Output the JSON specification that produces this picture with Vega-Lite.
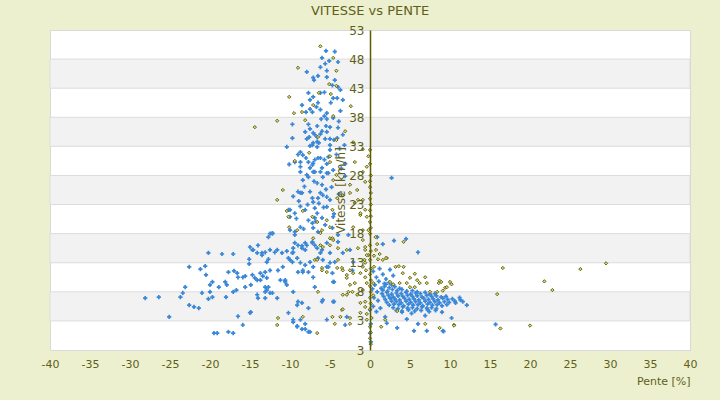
{
  "$schema": "https://vega.github.io/schema/vega-lite/v6.json",
  "width": 640,
  "height": 320,
  "autosize": {"type": "none"},
  "padding": {"left": 50, "top": 30, "right": 30, "bottom": 50},
  "background": "#ecf0ce",
  "title": {"text": "VITESSE vs PENTE", "fontSize": 13, "fontWeight": "normal", "color": "#5f5f1a", "font": "DejaVu Sans", "offset": 6},
  "config": {
    "view": {"stroke": "#d9d9d9", "fill": "white"},
    "axis": {"labelFont": "DejaVu Sans", "titleFont": "DejaVu Sans", "labelColor": "#5f5f1a", "titleColor": "#5f5f1a", "titleFontWeight": "normal", "labelOverlap": false}
  },
  "datasets": {
    "bandes": [
      {"bas": 43, "haut": 48}, {"bas": 33, "haut": 38}, {"bas": 23, "haut": 28}, {"bas": 13, "haut": 18}, {"bas": 3, "haut": 8}
    ],
    "bleu": [
      {"pente": -5.5, "vitesse": 49.4}, {"pente": -4.4, "vitesse": 49.3}, {"pente": -6, "vitesse": 48.2}, {"pente": -5.1, "vitesse": 47.7},
      {"pente": -4, "vitesse": 47.5}, {"pente": -5.6, "vitesse": 47.2}, {"pente": -6.2, "vitesse": 46.6}, {"pente": -5.4, "vitesse": 46},
      {"pente": -7.9, "vitesse": 45.8}, {"pente": -6.5, "vitesse": 45.1}, {"pente": -7.1, "vitesse": 44.8}, {"pente": -7, "vitesse": 44.4},
      {"pente": -5.4, "vitesse": 44.9}, {"pente": -4.4, "vitesse": 44.4}, {"pente": -4.7, "vitesse": 43.5}, {"pente": -4, "vitesse": 43.2},
      {"pente": -3.7, "vitesse": 42.7}, {"pente": -5.7, "vitesse": 42.3}, {"pente": -6.2, "vitesse": 42.2}, {"pente": -7.7, "vitesse": 42.2},
      {"pente": -7.1, "vitesse": 41.5}, {"pente": -4.6, "vitesse": 41.3}, {"pente": -4.1, "vitesse": 41.3}, {"pente": -7.5, "vitesse": 41},
      {"pente": -3.4, "vitesse": 41}, {"pente": -6.5, "vitesse": 40.5}, {"pente": -8.5, "vitesse": 40.1}, {"pente": -4.9, "vitesse": 40.5},
      {"pente": -6.7, "vitesse": 39.8}, {"pente": -7.5, "vitesse": 39.4}, {"pente": -8, "vitesse": 38.9}, {"pente": -7.2, "vitesse": 38.9},
      {"pente": -6.2, "vitesse": 39.3}, {"pente": -3.7, "vitesse": 39.1}, {"pente": -5.4, "vitesse": 38.7}, {"pente": -5.7, "vitesse": 38.2},
      {"pente": -6.1, "vitesse": 37.7}, {"pente": -5.4, "vitesse": 37.7}, {"pente": -4.6, "vitesse": 37.9}, {"pente": -9.7, "vitesse": 36.8},
      {"pente": -7.7, "vitesse": 36.8}, {"pente": -6.6, "vitesse": 36.5}, {"pente": -5.5, "vitesse": 36.5}, {"pente": -5, "vitesse": 36.3},
      {"pente": -4, "vitesse": 36.2}, {"pente": -7.5, "vitesse": 36}, {"pente": -6, "vitesse": 35.6}, {"pente": -5.4, "vitesse": 35.5},
      {"pente": -7.1, "vitesse": 35.3}, {"pente": -6.6, "vitesse": 34.6}, {"pente": -9.7, "vitesse": 34.4}, {"pente": -7.9, "vitesse": 34.3},
      {"pente": -5.6, "vitesse": 34.3}, {"pente": -5, "vitesse": 34.3}, {"pente": -4.1, "vitesse": 34.4}, {"pente": -7.1, "vitesse": 33.6},
      {"pente": -6.4, "vitesse": 33.6}, {"pente": -10.4, "vitesse": 32.9}, {"pente": -8.7, "vitesse": 32}, {"pente": -7.5, "vitesse": 33.1},
      {"pente": -6.6, "vitesse": 32.9}, {"pente": -5, "vitesse": 32.4}, {"pente": -3.2, "vitesse": 33.2}, {"pente": -8, "vitesse": 31},
      {"pente": -6.2, "vitesse": 31}, {"pente": -7.1, "vitesse": 30.1}, {"pente": -5.4, "vitesse": 30}, {"pente": -3.1, "vitesse": 30},
      {"pente": -8.7, "vitesse": 29.5}, {"pente": -6, "vitesse": 29.3}, {"pente": -6.9, "vitesse": 28.6}, {"pente": -5.2, "vitesse": 28.4},
      {"pente": -7.7, "vitesse": 27.7}, {"pente": -3.1, "vitesse": 27.9},
      {"pente": -7.6, "vitesse": 34.6}, {"pente": -6.9, "vitesse": 35}, {"pente": -6.2, "vitesse": 35.1}, {"pente": -6.6, "vitesse": 33.8},
      {"pente": -7.2, "vitesse": 33.2}, {"pente": -5, "vitesse": 33.2}, {"pente": -4.5, "vitesse": 34.1}, {"pente": -8.4, "vitesse": 31.5},
      {"pente": -9.4, "vitesse": 30.3}, {"pente": -8.7, "vitesse": 30.3}, {"pente": -7.7, "vitesse": 30.3}, {"pente": -7.2, "vitesse": 29.8},
      {"pente": -6.9, "vitesse": 30.7}, {"pente": -6.5, "vitesse": 31}, {"pente": -5.7, "vitesse": 30.7}, {"pente": -5.2, "vitesse": 31.2},
      {"pente": -7.5, "vitesse": 29.3}, {"pente": -7.1, "vitesse": 28.6}, {"pente": -7.9, "vitesse": 28.1}, {"pente": -6.2, "vitesse": 28.6},
      {"pente": -5.9, "vitesse": 27.7}, {"pente": -5.4, "vitesse": 28.4}, {"pente": -4.6, "vitesse": 28.9}, {"pente": -8.7, "vitesse": 28.6},
      {"pente": -8.4, "vitesse": 27.2}, {"pente": -6.6, "vitesse": 26.7}, {"pente": -6, "vitesse": 26.4}, {"pente": -9, "vitesse": 25.2},
      {"pente": -8.5, "vitesse": 25}, {"pente": -7.2, "vitesse": 24.1}, {"pente": -6.2, "vitesse": 25}, {"pente": -7.5, "vitesse": 25.2},
      {"pente": -5.4, "vitesse": 24.3}, {"pente": -5, "vitesse": 23.8}, {"pente": -10, "vitesse": 22.1}, {"pente": -8.1, "vitesse": 22.1},
      {"pente": -6.9, "vitesse": 22.4}, {"pente": -6.6, "vitesse": 21.5}, {"pente": -7.7, "vitesse": 20.3}, {"pente": -7.2, "vitesse": 19.8},
      {"pente": -8.7, "vitesse": 19.1}, {"pente": -10, "vitesse": 18.6}, {"pente": -9.4, "vitesse": 17.8}, {"pente": -12.2, "vitesse": 18},
      {"pente": -6, "vitesse": 20.7}, {"pente": -5.6, "vitesse": 19.5}, {"pente": -6.5, "vitesse": 18.3}, {"pente": -4, "vitesse": 17.8},
      {"pente": -5.4, "vitesse": 16.4}, {"pente": -7.9, "vitesse": 16}, {"pente": -9.4, "vitesse": 16.4},
      {"pente": -8.2, "vitesse": 26.1}, {"pente": -7, "vitesse": 27}, {"pente": -6.4, "vitesse": 23.2}, {"pente": -5.8, "vitesse": 22.5},
      {"pente": -8.9, "vitesse": 23.6}, {"pente": -9.6, "vitesse": 24.4}, {"pente": -4.8, "vitesse": 26}, {"pente": -5.5, "vitesse": 25.6},
      {"pente": -7.8, "vitesse": 23}, {"pente": -6.8, "vitesse": 20.1}, {"pente": -9.2, "vitesse": 20.6}, {"pente": -8.3, "vitesse": 18.8},
      {"pente": -4.5, "vitesse": 21.4}, {"pente": -3.9, "vitesse": 24.8}, {"pente": -3.6, "vitesse": 29.2}, {"pente": -4.2, "vitesse": 31.6},
      {"pente": -3.8, "vitesse": 32.6}, {"pente": -8.1, "vitesse": 35.5}, {"pente": -9, "vitesse": 31.6}, {"pente": -10.1, "vitesse": 29.9},
      {"pente": -3.4, "vitesse": 35}, {"pente": -3.9, "vitesse": 37.3},
      {"pente": -14, "vitesse": 16}, {"pente": -12.5, "vitesse": 18}, {"pente": -13.1, "vitesse": 14.8}, {"pente": -14.1, "vitesse": 14.7},
      {"pente": -14.7, "vitesse": 15.2}, {"pente": -13.5, "vitesse": 14.3}, {"pente": -12.9, "vitesse": 13.1}, {"pente": -11.6, "vitesse": 15.2},
      {"pente": -11, "vitesse": 14.7}, {"pente": -10.4, "vitesse": 15}, {"pente": -9.7, "vitesse": 14.7}, {"pente": -9.6, "vitesse": 15.5},
      {"pente": -9, "vitesse": 16}, {"pente": -8.5, "vitesse": 15.9}, {"pente": -8.1, "vitesse": 15.2}, {"pente": -7.2, "vitesse": 16.4},
      {"pente": -6.9, "vitesse": 16}, {"pente": -6.6, "vitesse": 15.5}, {"pente": -6.2, "vitesse": 14.7}, {"pente": -6, "vitesse": 15.2},
      {"pente": -10, "vitesse": 13.5}, {"pente": -9.1, "vitesse": 13.8}, {"pente": -8.7, "vitesse": 13}, {"pente": -8.1, "vitesse": 12.6},
      {"pente": -7.5, "vitesse": 13.1}, {"pente": -9, "vitesse": 11.4}, {"pente": -8.4, "vitesse": 11.4}, {"pente": -7.7, "vitesse": 11.4},
      {"pente": -7.1, "vitesse": 12.3}, {"pente": -5.4, "vitesse": 12.3}, {"pente": -5, "vitesse": 13}, {"pente": -4.4, "vitesse": 13.1},
      {"pente": -4.7, "vitesse": 11.2}, {"pente": -5.9, "vitesse": 13.5}, {"pente": -14.7, "vitesse": 10.9}, {"pente": -14.4, "vitesse": 10.4},
      {"pente": -13.7, "vitesse": 11.2}, {"pente": -13.1, "vitesse": 11.4}, {"pente": -12.5, "vitesse": 11.7}, {"pente": -14.1, "vitesse": 10},
      {"pente": -12.7, "vitesse": 8.8}, {"pente": -12.9, "vitesse": 8.3}, {"pente": -12.2, "vitesse": 7.8}, {"pente": -14.1, "vitesse": 7.5},
      {"pente": -13.1, "vitesse": 6.9}, {"pente": -11.5, "vitesse": 11.7}, {"pente": -11.2, "vitesse": 10}, {"pente": -10.6, "vitesse": 9.7},
      {"pente": -10.4, "vitesse": 9.2}, {"pente": -11.6, "vitesse": 6.9}, {"pente": -9.6, "vitesse": 8}, {"pente": -9, "vitesse": 6.3},
      {"pente": -8.5, "vitesse": 6.1}, {"pente": -7.7, "vitesse": 5.2}, {"pente": -6, "vitesse": 6.3}, {"pente": -4.6, "vitesse": 6.3},
      {"pente": -10.2, "vitesse": 4.4}, {"pente": -9.6, "vitesse": 2.8}, {"pente": -9.1, "vitesse": 2}, {"pente": -8.5, "vitesse": 1.6},
      {"pente": -8.1, "vitesse": 1.6}, {"pente": -7.7, "vitesse": 1.1}, {"pente": -5.4, "vitesse": 3.2}, {"pente": -4.6, "vitesse": 9.7},
      {"pente": -14.9, "vitesse": 4.5}, {"pente": -3.1, "vitesse": 2.3},
      {"pente": -28.1, "vitesse": 6.9}, {"pente": -26.4, "vitesse": 7.1}, {"pente": -25.1, "vitesse": 3.7}, {"pente": -23.7, "vitesse": 7.1},
      {"pente": -23.4, "vitesse": 7.8}, {"pente": -23.1, "vitesse": 8.8}, {"pente": -22.6, "vitesse": 12.3}, {"pente": -22.6, "vitesse": 5.7},
      {"pente": -22, "vitesse": 5.4}, {"pente": -21.4, "vitesse": 5.2}, {"pente": -21, "vitesse": 7.8}, {"pente": -21.2, "vitesse": 11.9},
      {"pente": -20.6, "vitesse": 12.4}, {"pente": -20.5, "vitesse": 10.9}, {"pente": -20.2, "vitesse": 14.7}, {"pente": -20, "vitesse": 8},
      {"pente": -20.2, "vitesse": 6.8}, {"pente": -19.7, "vitesse": 7.1}, {"pente": -19.7, "vitesse": 9.7}, {"pente": -20, "vitesse": 9.2},
      {"pente": -19.5, "vitesse": 0.9}, {"pente": -19.1, "vitesse": 0.9}, {"pente": -18.9, "vitesse": 8.8}, {"pente": -18.5, "vitesse": 14.5},
      {"pente": -18.1, "vitesse": 9.7}, {"pente": -17.9, "vitesse": 9.2}, {"pente": -18, "vitesse": 7.1}, {"pente": -17.7, "vitesse": 11.4},
      {"pente": -17.7, "vitesse": 1.1}, {"pente": -17.1, "vitesse": 0.9}, {"pente": -17.1, "vitesse": 14.5}, {"pente": -17, "vitesse": 11.6},
      {"pente": -16.6, "vitesse": 11.2}, {"pente": -16.7, "vitesse": 8.3}, {"pente": -17.1, "vitesse": 8}, {"pente": -16.5, "vitesse": 3.8},
      {"pente": -16.5, "vitesse": 10.5}, {"pente": -15.9, "vitesse": 2.3}, {"pente": -15.6, "vitesse": 8.8}, {"pente": -15.9, "vitesse": 10.5},
      {"pente": -15.6, "vitesse": 10.7}, {"pente": -15.1, "vitesse": 13.6}, {"pente": -15.1, "vitesse": 12.8}, {"pente": -15, "vitesse": 15.7},
      {"pente": -14.6, "vitesse": 15.2}, {"pente": -15, "vitesse": 4.4}, {"pente": -14.9, "vitesse": 9.2}, {"pente": -14, "vitesse": 6.9},
      {"pente": -13.7, "vitesse": 10}, {"pente": -13.5, "vitesse": 14.7}, {"pente": -13.4, "vitesse": 10.7}, {"pente": -12.9, "vitesse": 10.4},
      {"pente": -13.1, "vitesse": 8.8}, {"pente": -13.1, "vitesse": 8}, {"pente": -12.7, "vitesse": 13.6}, {"pente": -12.7, "vitesse": 17.4},
      {"pente": -12.2, "vitesse": 18.1}, {"pente": -12.5, "vitesse": 7.8}, {"pente": -12.5, "vitesse": 15.2}, {"pente": -11.9, "vitesse": 14.8},
      {"pente": -10.9, "vitesse": 12.3}, {"pente": -10.6, "vitesse": 10}, {"pente": -10.2, "vitesse": 13.8}, {"pente": -10.2, "vitesse": 22.1},
      {"pente": -10, "vitesse": 20.9}, {"pente": -9.7, "vitesse": 13.1}, {"pente": -9.6, "vitesse": 14.8}, {"pente": -9.4, "vitesse": 21.5},
      {"pente": -9.4, "vitesse": 18.3}, {"pente": -9.1, "vitesse": 5.7}, {"pente": -8.7, "vitesse": 25}, {"pente": -8.7, "vitesse": 22.7},
      {"pente": -8.5, "vitesse": 15.5}, {"pente": -8.4, "vitesse": 11.7}, {"pente": -8.1, "vitesse": 16.4}, {"pente": -7.2, "vitesse": 16.6},
      {"pente": -7.1, "vitesse": 19}, {"pente": -6.9, "vitesse": 20.7}, {"pente": -7.1, "vitesse": 23.4}, {"pente": -6.5, "vitesse": 24.1},
      {"pente": -5.9, "vitesse": 24.6}, {"pente": -6.5, "vitesse": 13.8}, {"pente": -7.1, "vitesse": 10.5}, {"pente": -6.9, "vitesse": 8.8},
      {"pente": -5.9, "vitesse": 6.6}, {"pente": -5.2, "vitesse": 12.3}, {"pente": -5, "vitesse": 14.7}, {"pente": -4.7, "vitesse": 19},
      {"pente": -4.6, "vitesse": 20.9}, {"pente": -5.4, "vitesse": 22.6}, {"pente": -4.5, "vitesse": 6.3}, {"pente": -4.5, "vitesse": 9.7},
      {"pente": -2.9, "vitesse": 3.7}, {"pente": -3.4, "vitesse": 14.7}, {"pente": -4, "vitesse": 16.6}, {"pente": -2.5, "vitesse": 15.2},
      {"pente": -2.7, "vitesse": 17.8}, {"pente": -2.1, "vitesse": 13.1}, {"pente": -2.2, "vitesse": 11.7}, {"pente": -8.7, "vitesse": 3.2},
      {"pente": -9.1, "vitesse": 2.1}, {"pente": -8.1, "vitesse": 2.5}, {"pente": -7.5, "vitesse": 1.1}, {"pente": -9.6, "vitesse": 3.2},
      {"pente": 2.7, "vitesse": 27.6}, {"pente": 0.9, "vitesse": 17.4}, {"pente": 1.6, "vitesse": 16.2}, {"pente": 3, "vitesse": 16.8},
      {"pente": 4.5, "vitesse": 17.1}, {"pente": 6, "vitesse": 14.8},
      {"pente": 0.4, "vitesse": 11.5}, {"pente": 0.8, "vitesse": 10.5}, {"pente": 1.2, "vitesse": 12}, {"pente": 1.6, "vitesse": 11},
      {"pente": 2, "vitesse": 10.2}, {"pente": 2.5, "vitesse": 11.8}, {"pente": 2.9, "vitesse": 10.8}, {"pente": 0.6, "vitesse": 9.2},
      {"pente": 1.1, "vitesse": 9.8}, {"pente": 1.8, "vitesse": 9.4}, {"pente": 2.4, "vitesse": 9.6}, {"pente": 0.3, "vitesse": 8.5},
      {"pente": 0.9, "vitesse": 8}, {"pente": 1.4, "vitesse": 8.6}, {"pente": 0.5, "vitesse": 7}, {"pente": 1, "vitesse": 6.5},
      {"pente": 0.4, "vitesse": 5.5}, {"pente": 0.8, "vitesse": 4.6}, {"pente": 1.3, "vitesse": 5.2},
      {"pente": 1.8, "vitesse": 8.9}, {"pente": 2.4, "vitesse": 8.7}, {"pente": 3.1, "vitesse": 8.9}, {"pente": 3.7, "vitesse": 8.6},
      {"pente": 2, "vitesse": 9.3}, {"pente": 2.7, "vitesse": 9.2},
      {"pente": 1.6, "vitesse": 8.3}, {"pente": 2.2, "vitesse": 8.1}, {"pente": 2.8, "vitesse": 8.4}, {"pente": 3.4, "vitesse": 8.2},
      {"pente": 4, "vitesse": 8.4}, {"pente": 4.6, "vitesse": 8.1}, {"pente": 5.3, "vitesse": 8.2}, {"pente": 5.9, "vitesse": 8},
      {"pente": 1.5, "vitesse": 7.7}, {"pente": 2.1, "vitesse": 7.9}, {"pente": 2.7, "vitesse": 7.6}, {"pente": 3.3, "vitesse": 7.8},
      {"pente": 3.9, "vitesse": 7.7}, {"pente": 4.5, "vitesse": 7.9}, {"pente": 5.1, "vitesse": 7.6}, {"pente": 5.7, "vitesse": 7.8},
      {"pente": 6.3, "vitesse": 7.7}, {"pente": 6.9, "vitesse": 7.9}, {"pente": 7.5, "vitesse": 7.6}, {"pente": 8.1, "vitesse": 7.7},
      {"pente": 1.7, "vitesse": 7.2}, {"pente": 2.3, "vitesse": 7.4}, {"pente": 2.9, "vitesse": 7.1}, {"pente": 3.5, "vitesse": 7.3},
      {"pente": 4.1, "vitesse": 7.2}, {"pente": 4.7, "vitesse": 7.4}, {"pente": 5.3, "vitesse": 7.2}, {"pente": 5.9, "vitesse": 7.3},
      {"pente": 6.5, "vitesse": 7.1}, {"pente": 7.1, "vitesse": 7.4}, {"pente": 7.7, "vitesse": 7.2}, {"pente": 8.3, "vitesse": 7.3},
      {"pente": 8.9, "vitesse": 7.1}, {"pente": 9.5, "vitesse": 7.2},
      {"pente": 1.9, "vitesse": 6.7}, {"pente": 2.5, "vitesse": 6.9}, {"pente": 3.1, "vitesse": 6.8}, {"pente": 3.7, "vitesse": 6.6},
      {"pente": 4.3, "vitesse": 6.9}, {"pente": 4.9, "vitesse": 6.7}, {"pente": 5.5, "vitesse": 6.8}, {"pente": 6.1, "vitesse": 6.6},
      {"pente": 6.7, "vitesse": 6.9}, {"pente": 7.3, "vitesse": 6.7}, {"pente": 7.9, "vitesse": 6.8}, {"pente": 8.5, "vitesse": 6.6},
      {"pente": 9.1, "vitesse": 6.9}, {"pente": 9.7, "vitesse": 6.7}, {"pente": 10.3, "vitesse": 6.8},
      {"pente": 2.1, "vitesse": 6.2}, {"pente": 2.7, "vitesse": 6.4}, {"pente": 3.3, "vitesse": 6.3}, {"pente": 3.9, "vitesse": 6.1},
      {"pente": 4.5, "vitesse": 6.4}, {"pente": 5.1, "vitesse": 6.2}, {"pente": 5.7, "vitesse": 6.3}, {"pente": 6.3, "vitesse": 6.1},
      {"pente": 6.9, "vitesse": 6.4}, {"pente": 7.5, "vitesse": 6.2}, {"pente": 8.1, "vitesse": 6.3}, {"pente": 8.7, "vitesse": 6.1},
      {"pente": 9.3, "vitesse": 6.3}, {"pente": 9.9, "vitesse": 6.2}, {"pente": 10.6, "vitesse": 6.4},
      {"pente": 2.4, "vitesse": 5.7}, {"pente": 3, "vitesse": 5.9}, {"pente": 3.6, "vitesse": 5.8}, {"pente": 4.2, "vitesse": 5.6},
      {"pente": 4.8, "vitesse": 5.9}, {"pente": 5.4, "vitesse": 5.7}, {"pente": 6, "vitesse": 5.8}, {"pente": 6.6, "vitesse": 5.6},
      {"pente": 7.2, "vitesse": 5.9}, {"pente": 7.8, "vitesse": 5.7}, {"pente": 8.4, "vitesse": 5.8}, {"pente": 9, "vitesse": 5.6},
      {"pente": 9.6, "vitesse": 5.8},
      {"pente": 2.9, "vitesse": 5.3}, {"pente": 3.5, "vitesse": 5.1}, {"pente": 4.1, "vitesse": 5.4}, {"pente": 4.7, "vitesse": 5.2},
      {"pente": 5.3, "vitesse": 5.3}, {"pente": 5.9, "vitesse": 5.1}, {"pente": 6.5, "vitesse": 5.4}, {"pente": 7.1, "vitesse": 5.2},
      {"pente": 7.7, "vitesse": 5.3}, {"pente": 8.3, "vitesse": 5.1},
      {"pente": 3.3, "vitesse": 4.8}, {"pente": 4, "vitesse": 4.7}, {"pente": 4.8, "vitesse": 4.9}, {"pente": 5.6, "vitesse": 4.7},
      {"pente": 6.4, "vitesse": 4.8}, {"pente": 7.2, "vitesse": 4.9},
      {"pente": 11.2, "vitesse": 7}, {"pente": 12.1, "vitesse": 5.7}, {"pente": 11.3, "vitesse": 6.6}, {"pente": 10.7, "vitesse": 6.1},
      {"pente": 11.6, "vitesse": 6.3},
      {"pente": 1.9, "vitesse": 3.7}, {"pente": 2.1, "vitesse": 2.6}, {"pente": 3.4, "vitesse": 1.8}, {"pente": 5.5, "vitesse": 1.3},
      {"pente": 7.1, "vitesse": 1.3}, {"pente": 9.1, "vitesse": 1.3}, {"pente": 4.6, "vitesse": 3.3}, {"pente": 6, "vitesse": 2.5},
      {"pente": 4, "vitesse": 4.5}, {"pente": 9, "vitesse": 4.5}, {"pente": 10.2, "vitesse": 3.5}, {"pente": 15.7, "vitesse": 2.4},
      {"pente": 9.2, "vitesse": 1.2}, {"pente": 5.2, "vitesse": 4.3}, {"pente": 7.4, "vitesse": 4.6}, {"pente": 8.2, "vitesse": 4.8},
      {"pente": 6.9, "vitesse": 3.9},
      {"pente": 0, "vitesse": 0.9}, {"pente": 0, "vitesse": 4.9}, {"pente": 0.1, "vitesse": -0.6}, {"pente": 0.1, "vitesse": 2.5}
    ],
    "olive": [
      {"pente": -6.2, "vitesse": 50.2}, {"pente": -4.6, "vitesse": 48.2}, {"pente": -9, "vitesse": 46.5}, {"pente": -4.2, "vitesse": 46},
      {"pente": -5.1, "vitesse": 43.7}, {"pente": -4.2, "vitesse": 43.4}, {"pente": -6.4, "vitesse": 42.2}, {"pente": -4.9, "vitesse": 42},
      {"pente": -10.1, "vitesse": 41.5}, {"pente": -7.1, "vitesse": 40.1}, {"pente": -8.5, "vitesse": 38.9}, {"pente": -9.5, "vitesse": 38.7},
      {"pente": -2.4, "vitesse": 39.9}, {"pente": -4.6, "vitesse": 38.2}, {"pente": -8.1, "vitesse": 37.5}, {"pente": -11.6, "vitesse": 37.4},
      {"pente": -14.4, "vitesse": 36.3}, {"pente": -3.1, "vitesse": 35.6}, {"pente": -6.5, "vitesse": 34.6}, {"pente": -4.2, "vitesse": 34.1},
      {"pente": -7.6, "vitesse": 31.9}, {"pente": -5, "vitesse": 31.3}, {"pente": -9.4, "vitesse": 30.5}, {"pente": -1.9, "vitesse": 30.3},
      {"pente": -0.9, "vitesse": 32.5}, {"pente": -0.2, "vitesse": 31.3}, {"pente": -0.4, "vitesse": 29.5}, {"pente": -2.1, "vitesse": 33.7},
      {"pente": -10.9, "vitesse": 25.5}, {"pente": -11.6, "vitesse": 23.8}, {"pente": -5, "vitesse": 30.3}, {"pente": -4.2, "vitesse": 28.1},
      {"pente": -4.6, "vitesse": 27.2}, {"pente": -2.5, "vitesse": 26.4}, {"pente": -1.6, "vitesse": 25.5}, {"pente": -1.5, "vitesse": 23.8},
      {"pente": -1.2, "vitesse": 21.2}, {"pente": -0.6, "vitesse": 22.1}, {"pente": -5, "vitesse": 19.1}, {"pente": -5, "vitesse": 17.2},
      {"pente": -0.9, "vitesse": 16.9}, {"pente": -2.1, "vitesse": 19.1}, {"pente": -0.9, "vitesse": 28.6}, {"pente": -0.6, "vitesse": 26.9},
      {"pente": 0, "vitesse": 32.4}, {"pente": -0.2, "vitesse": 18.6}, {"pente": 0.7, "vitesse": 17.4}, {"pente": -6.2, "vitesse": 16},
      {"pente": -10.2, "vitesse": 20.9}, {"pente": -10.1, "vitesse": 19.1}, {"pente": -9.1, "vitesse": 18.6},
      {"pente": -6.2, "vitesse": 18.1}, {"pente": -4.7, "vitesse": 17.2}, {"pente": -5, "vitesse": 16}, {"pente": -4, "vitesse": 15.5},
      {"pente": -2.9, "vitesse": 15.2}, {"pente": -1.5, "vitesse": 15.5}, {"pente": -6.9, "vitesse": 13.5}, {"pente": -6, "vitesse": 12.1},
      {"pente": -5.4, "vitesse": 11.4}, {"pente": -4.1, "vitesse": 12.1}, {"pente": -3.5, "vitesse": 12.1}, {"pente": -2.9, "vitesse": 10.9},
      {"pente": -2.5, "vitesse": 11.7}, {"pente": -2.1, "vitesse": 11.2}, {"pente": -1.9, "vitesse": 9.5}, {"pente": -2.2, "vitesse": 8},
      {"pente": -2.9, "vitesse": 7.5}, {"pente": -1.6, "vitesse": 7.5}, {"pente": -0.6, "vitesse": 6.3}, {"pente": -6.5, "vitesse": 8},
      {"pente": -3.5, "vitesse": 4.9}, {"pente": -4.7, "vitesse": 3.7}, {"pente": -3.7, "vitesse": 3.7}, {"pente": -2.5, "vitesse": 3.5},
      {"pente": -8.4, "vitesse": 3.7}, {"pente": -11.5, "vitesse": 3.5}, {"pente": -11.6, "vitesse": 2.3}, {"pente": -6.6, "vitesse": 0.9},
      {"pente": -7.1, "vitesse": 17.2},
      {"pente": -10.4, "vitesse": 21.9}, {"pente": -8.4, "vitesse": 21.9}, {"pente": -7.2, "vitesse": 20.9}, {"pente": -6.6, "vitesse": 20},
      {"pente": -6, "vitesse": 18.6}, {"pente": -5.9, "vitesse": 15.7}, {"pente": -6.6, "vitesse": 13.5}, {"pente": -6, "vitesse": 11.7},
      {"pente": -4.6, "vitesse": 16.9}, {"pente": -4, "vitesse": 13.5}, {"pente": -3.4, "vitesse": 11.7}, {"pente": -2.9, "vitesse": 10.4},
      {"pente": -2.5, "vitesse": 9.2}, {"pente": -3.4, "vitesse": 7.5}, {"pente": -2.7, "vitesse": 8}, {"pente": -3.4, "vitesse": 5},
      {"pente": -4.4, "vitesse": 2.5}, {"pente": -2.5, "vitesse": 2.5}, {"pente": -4.7, "vitesse": 22.1}, {"pente": -5.4, "vitesse": 20.3},
      {"pente": -4.1, "vitesse": 24.1}, {"pente": -3.4, "vitesse": 24.6}, {"pente": -2.5, "vitesse": 25}, {"pente": -1.9, "vitesse": 23.3},
      {"pente": -1.2, "vitesse": 21.5}, {"pente": -0.9, "vitesse": 23.8}, {"pente": -0.4, "vitesse": 20.9}, {"pente": -0.9, "vitesse": 18.6},
      {"pente": -0.6, "vitesse": 15.7}, {"pente": -0.2, "vitesse": 14.3}, {"pente": -0.9, "vitesse": 12.3}, {"pente": -1.2, "vitesse": 11.2},
      {"pente": -0.4, "vitesse": 9.5}, {"pente": -1.2, "vitesse": 6.1}, {"pente": -1.2, "vitesse": 4.4}, {"pente": -0.4, "vitesse": 3.2},
      {"pente": 0.9, "vitesse": 16.2}, {"pente": 4.2, "vitesse": 16.6}, {"pente": 1.2, "vitesse": 14.5}, {"pente": 2.1, "vitesse": 13.8},
      {"pente": 3.2, "vitesse": 12.3}, {"pente": 3.6, "vitesse": 12.4}, {"pente": 4.2, "vitesse": 12.3}, {"pente": 4.1, "vitesse": 11.2},
      {"pente": 5.6, "vitesse": 11.1}, {"pente": 6.9, "vitesse": 10.5}, {"pente": 5, "vitesse": 10.4}, {"pente": 5.9, "vitesse": 10},
      {"pente": 6.2, "vitesse": 9.5}, {"pente": 7.1, "vitesse": 9.5}, {"pente": 8.7, "vitesse": 9.9}, {"pente": 8.6, "vitesse": 9.5},
      {"pente": 10, "vitesse": 9.7}, {"pente": 10.2, "vitesse": 9.3}, {"pente": 9.4, "vitesse": 8.7}, {"pente": 7.5, "vitesse": 8},
      {"pente": 4.6, "vitesse": 9.5}, {"pente": 3.7, "vitesse": 9.5}, {"pente": 2.9, "vitesse": 9.3}, {"pente": 2.5, "vitesse": 9.7},
      {"pente": 5, "vitesse": 8.8}, {"pente": 5.6, "vitesse": 8.8}, {"pente": 8.4, "vitesse": 8}, {"pente": 9.6, "vitesse": 8.8},
      {"pente": 8.7, "vitesse": 1.8}, {"pente": 6.9, "vitesse": 2.5}, {"pente": 3.4, "vitesse": 4.7}, {"pente": 1.9, "vitesse": 3.2},
      {"pente": 1.4, "vitesse": 2}, {"pente": 10.5, "vitesse": 2.3}, {"pente": 0.5, "vitesse": 14.2}, {"pente": 0.5, "vitesse": 12.3},
      {"pente": 0.4, "vitesse": 9.5}, {"pente": 0.4, "vitesse": 7.4}, {"pente": 0.75, "vitesse": 15.2}, {"pente": 1, "vitesse": 13.6},
      {"pente": 1.6, "vitesse": 13.5}, {"pente": 2, "vitesse": 13.8}, {"pente": 8.9, "vitesse": 9.7}, {"pente": 9.1, "vitesse": 8.2},
      {"pente": -0.6, "vitesse": 15.2}, {"pente": -0.4, "vitesse": 14.3}, {"pente": -0.7, "vitesse": 13.5}, {"pente": -0.6, "vitesse": 13},
      {"pente": -0.5, "vitesse": 11.7}, {"pente": -0.6, "vitesse": 10.5}, {"pente": -0.9, "vitesse": 8.3}, {"pente": -0.6, "vitesse": 5.4},
      {"pente": -0.4, "vitesse": 4.2},
      {"pente": 16.6, "vitesse": 12.1}, {"pente": 26.3, "vitesse": 11.9}, {"pente": 29.5, "vitesse": 12.9}, {"pente": 21.8, "vitesse": 9.8},
      {"pente": 22.8, "vitesse": 8.3}, {"pente": 15.9, "vitesse": 7.6}, {"pente": 10.5, "vitesse": 2.2}, {"pente": 16.3, "vitesse": 1.7},
      {"pente": 20, "vitesse": 2.2},
      {"pente": 0.1, "vitesse": -1}, {"pente": 0, "vitesse": 0}, {"pente": 0.1, "vitesse": 1}, {"pente": 0, "vitesse": 2},
      {"pente": 0.2, "vitesse": 3.5}, {"pente": 0, "vitesse": 5}, {"pente": 0.1, "vitesse": 6}, {"pente": 0, "vitesse": 7},
      {"pente": 0.1, "vitesse": 8}, {"pente": 0, "vitesse": 9}, {"pente": 0.1, "vitesse": 10}, {"pente": 0, "vitesse": 11},
      {"pente": 0.1, "vitesse": 12}, {"pente": 0, "vitesse": 13.5}, {"pente": 0.1, "vitesse": 15}, {"pente": 0, "vitesse": 16},
      {"pente": 0, "vitesse": 18}, {"pente": 0.1, "vitesse": 19}, {"pente": 0, "vitesse": 20}, {"pente": 0.1, "vitesse": 21},
      {"pente": 0, "vitesse": 22}, {"pente": 0.1, "vitesse": 23}, {"pente": 0, "vitesse": 24}, {"pente": 0.1, "vitesse": 25},
      {"pente": 0, "vitesse": 26}, {"pente": 0, "vitesse": 27}, {"pente": 0.1, "vitesse": 28}, {"pente": 0, "vitesse": 30}
    ]
  },
  "layer": [
    {
      "data": {"name": "bandes"},
      "mark": {"type": "rect", "fill": "#f2f2f2", "stroke": "#dcdcdc", "strokeWidth": 1},
      "encoding": {
        "x": {
          "datum": -40, "type": "quantitative", "scale": {"domain": [-40, 40], "nice": false},
          "axis": {
            "values": [-40, -35, -30, -25, -20, -15, -10, -5, 0, 5, 10, 15, 20, 25, 30, 35, 40],
            "tickCount": 17,
            "labelExpr": "datum.value < 0 ? '-' + abs(datum.value) : '' + datum.value",
            "grid": false, "domain": false, "ticks": false, "labelPadding": 8, "labelFontSize": 11,
            "labelFlush": false, "labelOverlap": false,
            "title": "Pente [%]", "titleAnchor": "end", "titleFontSize": 11, "titlePadding": 6
          }
        },
        "x2": {"datum": 40},
        "y": {
          "field": "bas", "type": "quantitative", "scale": {"domain": [-2, 53], "nice": false, "zero": false},
          "axis": {
            "values": [-2, 3, 8, 13, 18, 23, 28, 33, 38, 43, 48, 53],
            "tickCount": 12,
            "labelExpr": "datum.value < 0 ? '3' : datum.label",
            "labelOverlap": false, "labelFlush": false,
            "offset": -320, "grid": false, "ticks": false,
            "domainColor": "#5c5c00", "domainWidth": 1.5, "labelFontSize": 12, "labelPadding": 6,
            "title": "Vitesse [km/h]", "titleFontSize": 12, "titlePadding": 1, "zindex": 1
          }
        },
        "y2": {"field": "haut"}
      }
    },
    {
      "data": {"name": "bleu"},
      "mark": {"type": "point", "shape": "cross", "filled": true, "color": "#3a87d8", "size": 18, "opacity": 1},
      "encoding": {
        "x": {"field": "pente", "type": "quantitative"},
        "y": {"field": "vitesse", "type": "quantitative"}
      }
    },
    {
      "data": {"name": "olive"},
      "mark": {"type": "point", "shape": "diamond", "filled": true, "fill": "#d4d68a", "stroke": "#66660a", "strokeWidth": 1, "size": 11, "opacity": 1},
      "encoding": {
        "x": {"field": "pente", "type": "quantitative"},
        "y": {"field": "vitesse", "type": "quantitative"}
      }
    }
  ]
}
